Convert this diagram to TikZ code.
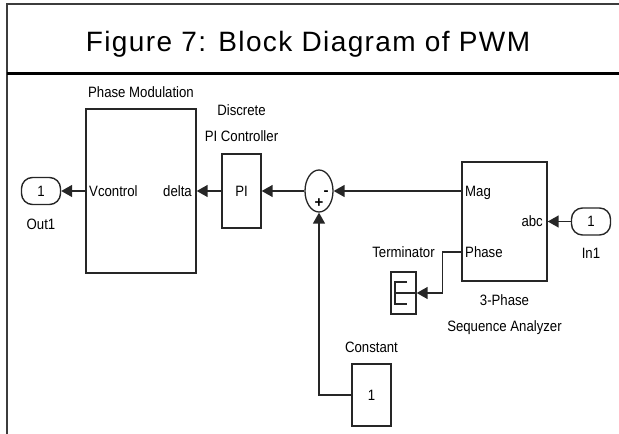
\documentclass[tikz,border=0pt]{standalone}
\usepackage{fontspec}
\setmainfont{Liberation Sans}
\newfontfamily\simfont[FakeStretch=0.88]{Liberation Sans}
\newfontfamily\titlefont[LetterSpace=5]{Liberation Sans}
\usetikzlibrary{positioning, calc, arrows.meta, shapes.geometric}
\definecolor{framecolor}{HTML}{3C3C3C}
\definecolor{blockcolor}{HTML}{262626}

\begin{document}
\begin{tikzpicture}[
    x=1pt, y=1pt,
    font=\simfont\fontsize{15}{26}\selectfont,
    block/.style={draw=blockcolor, rectangle, line width=1.4pt, inner sep=0pt},
    port/.style={block, rounded corners=11pt, minimum width=39pt, minimum height=27pt},
    sumblock/.style={draw=blockcolor, ellipse, line width=1.3pt, inner sep=0pt, minimum width=28pt, minimum height=42pt},
    lbl/.style={inner sep=0pt, align=center},
    portlbl/.style={inner sep=0pt, text height=10.5pt, text depth=0pt},
    sgn/.style={inner sep=0pt, font=\normalfont\bfseries\fontsize{15}{15}\selectfont},
    sig/.style={-{Triangle[length=11pt, width=12pt]}, line width=1.5pt, draw=blockcolor},
    wire/.style={line width=1.3pt, draw=blockcolor}
]
    \useasboundingbox (0,0) rectangle (619,434);

    % =========================================================================
    % FRAME AND TITLE
    % =========================================================================
    \draw [draw=framecolor, line width=1.5pt] (7,0) -- (7,430) -- (619,430);
    \draw [draw=black, line width=3pt] (7,360) -- (619,360);
    \node (title) [anchor=base, font=\titlefont\fontsize{28}{30}\selectfont] at (308,382) {Figure 7: Block Diagram of PWM};

    % =========================================================================
    % BLOCKS
    % =========================================================================
    \node (out_port) [port] at (41,243) {1};
    \node (phase_mod) [block, minimum width=110pt, minimum height=164pt] at (141,243) {};
    \node (pi_ctrl) [block, minimum width=39pt, minimum height=74pt] at (241.5,243) {PI};
    \node (sum_pt) [sumblock] at (319,243) {};
    \node (seq_an) [block, minimum width=85pt, minimum height=119pt] at (504.5,212.5) {};
    \node (in_port) [port] at (591,212.5) {1};
    \node (term) [block, minimum width=25pt, minimum height=42pt] at (403.5,141) {};
    \node (const) [block, minimum width=39pt, minimum height=62pt] at (371.5,39) {1};

    % Block labels
    \node (pm_lbl) [lbl, above=10.5pt of phase_mod] {Phase Modulation};
    \node (pi_lbl) [lbl, above=11pt of pi_ctrl] {Discrete\\PI Controller};
    \node (term_lbl) [lbl, above=13.5pt of term] {Terminator};
    \node (const_lbl) [lbl, above=10.5pt of const] {Constant};
    \node (out_lbl) [lbl, below=14pt of out_port] {Out1};
    \node (in_lbl) [lbl, below=12pt of in_port] {In1};
    \node (seq_lbl) [lbl, below=12.5pt of seq_an] {3-Phase\\Sequence Analyzer};

    % Port labels inside blocks
    \node (vc_lbl) [portlbl, anchor=west] at (89,243) {Vcontrol};
    \node (delta_lbl) [portlbl, anchor=east] at (192,243) {delta};
    \node (mag_lbl) [portlbl, anchor=west] at (465,243) {Mag};
    \node (abc_lbl) [portlbl, anchor=east] at (543,212.5) {abc};
    \node (ph_lbl) [portlbl, anchor=west] at (465,182) {Phase};

    % Sum signs
    \node (minus_sgn) [sgn] at (326,240.5) {-};
    \node (plus_sgn) [sgn] at (319,231) {+};

    % Terminator symbol
    \draw [wire] ($(term.center)+(3.5,11)$) -- ++(-12,0) -- ++(0,-22) -- ++(12,0);
    \draw [wire] ($(term.center)+(-8.5,0)$) -- (term.east);

    % =========================================================================
    % CONNECTIONS
    % =========================================================================
    \draw [sig] (phase_mod.west) -- (out_port.east);
    \draw [sig] (pi_ctrl.west) -- (phase_mod.east);
    \draw [sig] (sum_pt.west) -- (pi_ctrl.east);
    \draw [sig] (seq_an.west |- mag_lbl) -- (sum_pt.east);
    \draw [sig] (in_port.west) -- (seq_an.east);
    \draw [sig] (seq_an.west |- ph_lbl) -- ++(-19,0) |- (term.east);
    \draw [sig] (const.west) -| (sum_pt.south);

\end{tikzpicture}
\end{document}
